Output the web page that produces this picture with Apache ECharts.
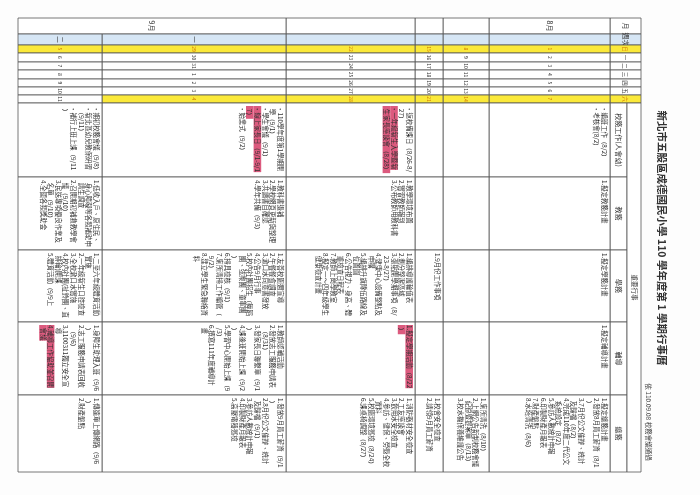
<!DOCTYPE html>
<html><head><meta charset="utf-8">
<script src="https://cdn.jsdelivr.net/npm/echarts@6/dist/echarts.min.js"></script>
<style>html,body{margin:0;padding:0;background:#fff}#c{width:700px;height:495px}</style>
</head><body><div id="c"></div>
<script>
// ---- data ----
const title = '新北市五股區成德國民小學 110 學年度第 1 學期行事曆';
const note = '依 110.09.08 校務會議通過';
const headerRows = ['月', '週次', '日', '一', '二', '三', '四', '五', '六'];
const sectionNames = ['校務工作(人會幼)', '教務', '學務', '輔導', '總務'];
const groupName = '重要行事';
const monthLabels = ['8月', '', '', '', '9月', null]; // null = merged with previous
const weekLabels = ['', '', '', '', '一', '二'];
const days = [
  ['1','2','3','4','5','6','7'],
  ['8','9','10','11','12','13','14'],
  ['15','16','17','18','19','20','21'],
  ['22','23','24','25','26','27','28'],
  ['29','30','31','1','2','3','4'],
  ['5','6','7','8','9','10','11']
];
// lines starting with '!' are highlighted
const content = [
  [ ['‧編班工作（8/2）','‧考核會(8/2)'],
    ['1.擬定教務計畫'],
    ['1.擬定學務計畫'],
    ['1.擬定輔導計畫'],
    ['1.擬定總務計畫','2.發放8月員工薪資（8/1）','3.7月份公文催辦、統計及歸檔（8/2）','4.完成110年度二代公文系統設定（8/2）','5.參訪人數統計申報','6.印製財產月報表','7.財產盤點','8.水塔清洗（8/6）'] ],
  [ [], [], [], [],
    ['1.廁所清洗（8/10）','2.上網公告新制校務會議紀錄暨提案單（8/13）','3.校水機保養維護公告'] ],
  [ [], [], ['1.9月份工作事項'], [],
    ['1.校舍安全檢查','2.請領9月員工薪資'] ],
  [ ['‧返校備課日（8/26-8/27）','!‧一年級新生入學暨新生家長座談會（8/28）'],
    ['1.教學環境布置','2.實習教師報到','3.公布教師用教科書'],
    ['1.編排導護輪值表','2.劃分整潔區域','3.張貼開學期事項（8/23-8/27）','4.健康中心設備整點及申購','5.編排升旗隊伍路線及位置圖','6.公告視力、身高、體重檢查日程表','7.教師上崗學教室','8.擬定一～四年級學生健康檢查計畫'],
    ['!1.擬定學期活動（8/22）'],
    ['1.消防器材安全檢查','2.工友座談會','3.飲用水安全檢查','4.參訪、健保、勞退全校資料','5.校園環境巡檢（8/24）','6.課桌椅調整（8/27）'] ],
  [ ['‧110學年度第1學期開學（9/1）','‧學生會議（9/1）','!‧線上家長日（9/1-9/17）','‧始業式（9/2）'],
    ['1.教科書退補','2.學校網頁更新與整理','3.共讀書目確認','4.學年共備（9/3）'],
    ['1.友善校園週宣導','2.午餐餐食調查','3.漱口水同意書發放','4.公告9月行事','5.校內社團招生（舞蹈團、弦樂團、童軍團）','6.掃具檢核（9/1）','7.廁所清掃工作編管（9/2）','8.建立學生緊急聯絡資料'],
    ['1.教師認輔活動','2.發放志工服務申請表（8/31）','3.發家長日聯繫單（9/1）','4.課後班開始上課（9/2）','5.學習中心開始上課（9/3）','6.撰寫111年度輔導計畫'],
    ['1.發放9月員工薪資（9/1）','2.8月份公文催辦、統計及歸檔（9/1）','3.參訪人數統計申報','4.印製財產月報表','5.高壓電器巡檢'] ],
  [ ['‧期初校務會議（9/8）','‧新北區幼兒教保研習（9/11）','‧補行上班上課（9/11）'],
    ['1.低收入戶、原住民、身心障礙等各類補助申請生調查','2.召開期初補救教學會議（9/10）','3.民送專項優良作業及名單（9/10）','4.全國各類獎助金'],
    ['1.二至六年級體育活動實施','2.一年級新生口腔檢查','3.全校漱口水實施','4.校內社團(扯鈴團、直排輪)開課','5.體育活動（9/9上'],
    ['1.身障生助理入班（9/6）','2.志工服務申請表回收（9/6）','3.1100311獨立安全宣導','!4.輔導工作協助並召開會議'],
    ['1.傳達單上傳網路（9/6）','2.財產盤點'] ]
];

// ---- layout (page coordinates on hidden value axes) ----
const colX = [610, 489, 443, 415, 286, 102, 18];
const headX = [641, 610];
const subX = 627;
const rowY = [18, 34, 45, 53, 62, 70, 79, 87, 95, 103];
const secY = [103, 177, 250, 322, 395, 472];
const FONT = 'Noto Sans CJK TC';
const FS = 6.4, LH = 7.6;

const cells = [];
const LINE = '#555';
function add(x0, y0, x1, y1, o) { cells.push(Object.assign({x0, y0, x1, y1}, o || {})); }

headerRows.forEach((t, i) => {
  let fill = '#fff', color = '#333';
  if (i === 1) fill = '#d6e6f5';
  if (i === 2 || i === 8) { fill = '#fbe93a'; color = '#d07a00'; }
  add(headX[1], rowY[i], headX[0], rowY[i + 1], {fill, text: t, center: true, fs: i < 2 ? 7 : 5.5, color});
});
for (let s = 0; s < 5; s++) add(headX[1], secY[s], subX, secY[s + 1], {text: sectionNames[s], center: true, fs: 7});
add(subX, secY[0], headX[0], secY[5], {text: groupName, center: true, fs: 6.5});

for (let w = 0; w < 6; w++) {
  const x1 = colX[w], x0 = colX[w + 1];
  if (monthLabels[w] !== null) {
    let xa = x0;
    if (w + 1 < 6 && monthLabels[w + 1] === null) xa = colX[w + 2];
    add(xa, rowY[0], x1, rowY[1], {text: monthLabels[w], center: true, fs: 7});
  }
  add(x0, rowY[1], x1, rowY[2], {fill: '#d6e6f5', text: weekLabels[w], center: true, fs: 6.5});
  days[w].forEach((d, k) => {
    let fill = '#fff', color = '#333';
    if (k === 0 || (k === 6 && w < 5)) { fill = '#fbe93a'; color = '#d07a00'; }
    add(x0, rowY[2 + k], x1, rowY[3 + k], {fill, text: d, center: true, fs: 5, color});
  });
  for (let s = 0; s < 5; s++) add(x0, secY[s], x1, secY[s + 1], {lines: content[w][s]});
}

// manual wrapping
const mctx = document.createElement('canvas').getContext('2d');
mctx.font = FS + 'px "' + FONT + '"';
function wrap(str, maxW, indent) {
  const out = []; let cur = '';
  for (const ch of str) {
    if (mctx.measureText(cur + ch).width > maxW && cur) { out.push(cur); cur = indent + ch; }
    else cur += ch;
  }
  if (cur) out.push(cur);
  return out;
}

const chart = echarts.init(document.getElementById('c'));
chart.setOption({
  animation: false,
  backgroundColor: '#fdfdfd',
  grid: {left: 0, right: 0, top: 0, bottom: 0},
  xAxis: {type: 'value', min: 0, max: 700, show: false},
  yAxis: {type: 'value', min: 0, max: 495, inverse: true, show: false},
  graphic: [
    {type: 'text', x: 662, y: 238, rotation: -Math.PI / 2,
     style: {text: title, fontSize: 10.5, fontWeight: 'bold', fill: '#333', align: 'center', verticalAlign: 'middle', fontFamily: FONT}},
    {type: 'text', x: 648, y: 422, rotation: -Math.PI / 2,
     style: {text: note, fontSize: 6.5, fill: '#444', align: 'center', verticalAlign: 'middle', fontFamily: FONT}}
  ],
  series: [{
    type: 'custom',
    coordinateSystem: 'cartesian2d',
    data: cells.map((c, i) => [c.x0, c.y0, i]),
    renderItem: function (params, api) {
      const c = cells[params.dataIndex];
      const p0 = api.coord([c.x0, c.y0]);
      const p1 = api.coord([c.x1, c.y1]);
      const w = p1[0] - p0[0], h = p1[1] - p0[1];
      const ch = [{type: 'rect', shape: {x: p0[0], y: p0[1], width: w, height: h},
        style: {fill: c.fill || '#fff', stroke: LINE, lineWidth: 0.8}}];
      if (c.center && c.text) {
        ch.push({type: 'text', x: p0[0] + w / 2, y: p0[1] + h / 2, rotation: -Math.PI / 2,
          style: {text: c.text, fontSize: c.fs, fill: c.color || '#333', align: 'center', verticalAlign: 'middle', fontFamily: FONT}});
      } else if (c.lines && c.lines.length) {
        let k = 0;
        c.lines.forEach(raw => {
          const hl = raw[0] === '!';
          const s = hl ? raw.slice(1) : raw;
          wrap(s, h - 6, '  ').forEach(line => {
            ch.push({type: 'text', x: p1[0] - 2 - k * LH, y: p0[1] + 3, rotation: -Math.PI / 2,
              style: {text: line, fontSize: FS, lineHeight: LH, fill: '#333', align: 'left', verticalAlign: 'top',
                fontFamily: FONT, backgroundColor: hl ? '#dc5a7e' : null}});
            k++;
          });
        });
      }
      return {type: 'group', children: ch};
    }
  }]
});
</script></body></html>
